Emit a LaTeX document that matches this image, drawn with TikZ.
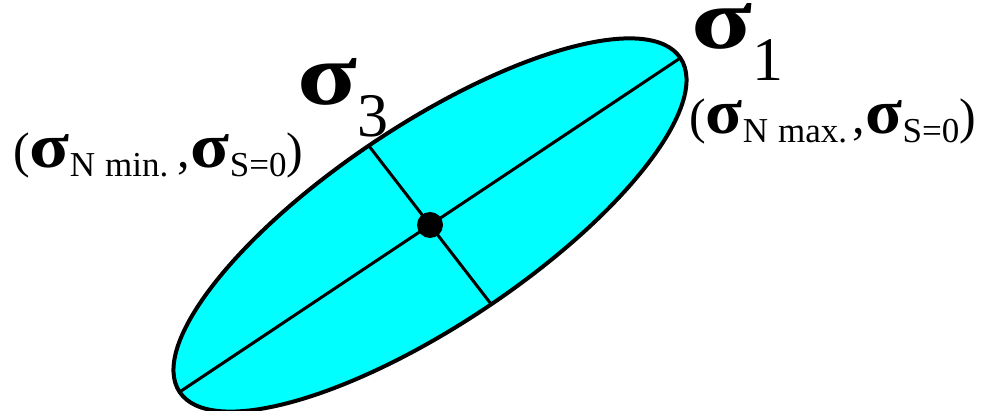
\documentclass[tikz,border=0pt]{standalone}
\usepackage{fontspec}
\setmainfont{Liberation Serif}
\usetikzlibrary{shapes.geometric}

\definecolor{stresscyan}{RGB}{0,255,255}
\newcommand{\sig}[2]{\resizebox{#1}{#2}{\bfseries σ}}
\newcommand{\lowsub}[2]{\raisebox{-#1}{\fontsize{35}{35}\selectfont #2}}

\begin{document}
\begin{tikzpicture}[
  x=1pt, y=1pt,
  stressell/.style={ellipse, draw=black, line width=4pt, fill=stresscyan,
    minimum width=602, minimum height=200, inner sep=0pt, outer sep=0pt},
  axisline/.style={black, line width=3pt},
  label/.style={inner sep=0pt, font=\fontsize{50}{50}\selectfont},
  pole/.style={inner sep=0pt}
]
  \useasboundingbox (0,0) rectangle (983,411);

  \node[stressell, rotate=33.7] (ell) at (430,186) {};

  \draw[axisline] (ell.west) -- (ell.east);
  \draw[axisline] (ell.94) -- (ell.274);
  \fill (ell.center) circle (13);

  \node[pole, anchor=base west] (s3) at (297,306)
    {\sig{60pt}{46pt}\raisebox{-32pt}{\fontsize{62}{62}\selectfont 3}};
  \node[pole, anchor=base west] (s1) at (691,362)
    {\sig{61pt}{45pt}\raisebox{-32pt}{\fontsize{62}{62}\selectfont 1}};

  \node[label, anchor=base west] (minlbl) at (13,243)
    {(\sig{40pt}{33pt}\lowsub{9pt}{N\hspace{10pt}min.}\hspace{9pt},\hspace{1pt}\sig{39pt}{33pt}\lowsub{9pt}{S=0})};
  \node[label, anchor=base west] (maxlbl) at (689,277)
    {(\sig{37pt}{33pt}\lowsub{9pt}{N\hspace{10pt}max.}\hspace{5pt},\hspace{1pt}\sig{37pt}{33pt}\lowsub{9pt}{S=0})};
\end{tikzpicture}
\end{document}
